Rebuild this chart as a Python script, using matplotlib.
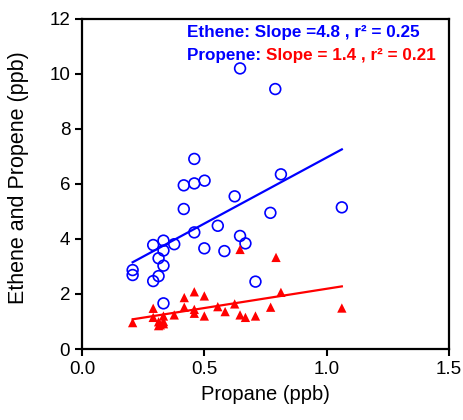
import matplotlib
matplotlib.use("Agg")
import matplotlib.pyplot as plt
import numpy as np

plt.rcParams['font.family'] = ['Liberation Sans', 'DejaVu Sans']

# Ethene (blue open circles)
ethene_x = [0.207, 0.207, 0.291, 0.291, 0.313, 0.313, 0.333, 0.333, 0.333, 0.333,
            0.377, 0.416, 0.416, 0.459, 0.459, 0.459, 0.501, 0.500, 0.555, 0.582,
            0.624, 0.646, 0.646, 0.668, 0.709, 0.770, 0.790, 0.813, 1.062]
ethene_y = [2.87, 2.69, 3.78, 2.47, 3.30, 2.65, 3.94, 3.58, 3.03, 1.66,
            3.81, 5.95, 5.09, 6.91, 6.02, 4.24, 6.12, 3.66, 4.48, 3.56,
            5.55, 10.20, 4.11, 3.84, 2.45, 4.95, 9.45, 6.35, 5.15]

# Propene (red filled triangles)
propene_x = [0.207, 0.291, 0.291, 0.313, 0.320, 0.333, 0.333, 0.333, 0.313, 0.377,
             0.418, 0.418, 0.459, 0.459, 0.459, 0.500, 0.500, 0.555, 0.585, 0.624,
             0.646, 0.646, 0.668, 0.709, 0.771, 0.793, 0.813, 1.062]
propene_y = [0.96, 1.48, 1.15, 0.99, 0.88, 0.92, 1.00, 1.20, 0.85, 1.24,
             1.87, 1.52, 2.08, 1.44, 1.30, 1.93, 1.20, 1.54, 1.36, 1.64,
             3.62, 1.24, 1.15, 1.20, 1.52, 3.33, 2.06, 1.49]

# Regression lines (slope, intercept, x range)
fit_range = [0.207, 1.062]
ethene_fit = (4.8, 2.16)
propene_fit = (1.4, 0.79)

fig = plt.figure(figsize=(4.64, 4.20), dpi=100)
ax = fig.add_axes([0.1767, 0.169, 0.791, 0.786])

blue = '#0000ff'
red = '#ff0000'

ax.scatter(ethene_x, ethene_y, s=60, facecolors='none', edgecolors=blue, linewidths=1.2, zorder=3)
ax.scatter(propene_x, propene_y, s=45, marker='^', color=red, edgecolors='none', zorder=3)

xr = np.array(fit_range)
ax.plot(xr, ethene_fit[0] * xr + ethene_fit[1], color=blue, lw=1.6, zorder=2)
ax.plot(xr, propene_fit[0] * xr + propene_fit[1], color=red, lw=1.6, zorder=2)

ax.set_xlim(0, 1.5)
ax.set_ylim(0, 12)
ax.set_xticks([0.0, 0.5, 1.0, 1.5])
ax.set_xticklabels(['0.0', '0.5', '1.0', '1.5'])
ax.set_yticks([0, 2, 4, 6, 8, 10, 12])
ax.tick_params(direction='out', length=5, width=1.5, labelsize=13.5)
for s in ax.spines.values():
    s.set_linewidth(1.6)

ax.set_xlabel('Propane (ppb)', fontsize=14.5, labelpad=5)
ax.set_ylabel('Ethene and Propene (ppb)', fontsize=15.5)
ax.yaxis.set_label_coords(-0.145, 0.52)

ax.text(0.286, 0.958, 'Ethene: Slope =4.8 , r\u00b2 = 0.25', transform=ax.transAxes,
        color=blue, fontsize=12.3, fontweight='bold', va='center', ha='left')
t1 = ax.text(0.286, 0.888, 'Propene: ', transform=ax.transAxes,
             color=blue, fontsize=12.3, fontweight='bold', va='center', ha='left')
ax.annotate('Slope = 1.4 , r\u00b2 = 0.21', xy=(1, 0.5), xycoords=t1, va='center', ha='left',
            color=red, fontsize=12.3, fontweight='bold')

fig.savefig('out.png', dpi=100)
